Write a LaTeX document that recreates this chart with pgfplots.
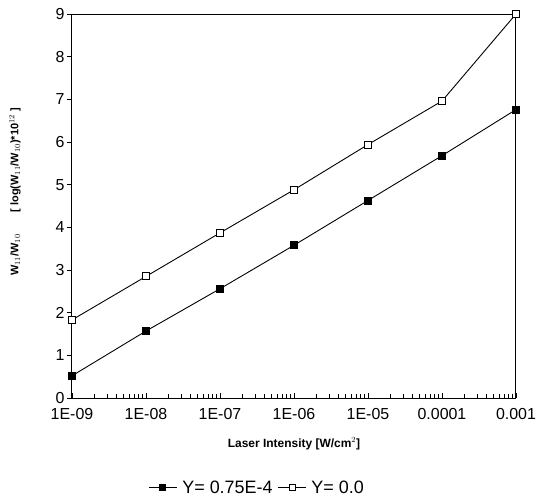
\documentclass[border=0pt]{standalone}
\usepackage{pgfplots}
\pgfplotsset{compat=1.18}
\usepackage{fontspec}
\setmainfont{Liberation Sans}
\begin{document}
\begin{tikzpicture}[x=1bp,y=1bp]
\begin{axis}[
  scale only axis,
  width=444bp, height=384bp,
  xmode=log,
  xmin=1e-9, xmax=1e-3,
  ymin=0, ymax=9,
  xtick={1e-9,1e-8,1e-7,1e-6,1e-5,1e-4,1e-3},
  xticklabels={1E-09,1E-08,1E-07,1E-06,1E-05,0.0001,0.001},
  ytick={0,1,...,9},
  /pgf/number format/assume math mode=true,
  ticklabel style={font=\fontsize{16}{18}\selectfont},
  xticklabel style={yshift=-7bp},
  yticklabel style={xshift=-4bp},
  xtick pos=bottom, ytick pos=left,
  tick align=inside,
  major tick length=5bp, minor tick length=4bp,
  y tick style={xshift=-5bp},
  tick style={black, line width=0.8pt},
  minor x tick num=8,
  axis line style={line width=1pt},
  xlabel={\fontsize{12}{14}\selectfont\bfseries Laser Intensity [W/cm$^2$]},
  xlabel style={yshift=-11bp},
  ylabel={\fontsize{11}{13}\selectfont\bfseries W$_{11}$/W$_{10}$\qquad[ log(W$_{11}$/W$_{10}$)*10$^{12}$ ]},
  ylabel style={yshift=28bp, xshift=14bp},
  legend columns=2,
  legend style={at={(0.417,-0.205)}, anchor=north, draw=none,
    font=\fontsize{18}{20}\selectfont, column sep=3bp},
  legend image code/.code={
    \draw[mark repeat=2, mark phase=2, mark size=3bp] plot coordinates {(0bp,0bp) (14bp,0bp) (28bp,0bp)};
  },
]
\addplot[black, line width=0.9pt, mark=square*, mark size=3.5bp, mark options={fill=black}]
  coordinates {(1e-9,0.52) (1e-8,1.57) (1e-7,2.56) (1e-6,3.58) (1e-5,4.63) (1e-4,5.68) (1e-3,6.76)};
\addlegendentry{Y= 0.75E-4}
\addplot[black, line width=0.9pt, mark=square*, mark size=3.5bp, mark options={fill=white}]
  coordinates {(1e-9,1.83) (1e-8,2.85) (1e-7,3.87) (1e-6,4.88) (1e-5,5.94) (1e-4,6.96) (1e-3,9.0)};
\addlegendentry{Y= 0.0}
\coordinate (SW) at (rel axis cs:0,0);
\end{axis}
\path (SW) ++(-72bp,-98bp) rectangle ++(555bp,496bp);
\end{tikzpicture}
\end{document}
